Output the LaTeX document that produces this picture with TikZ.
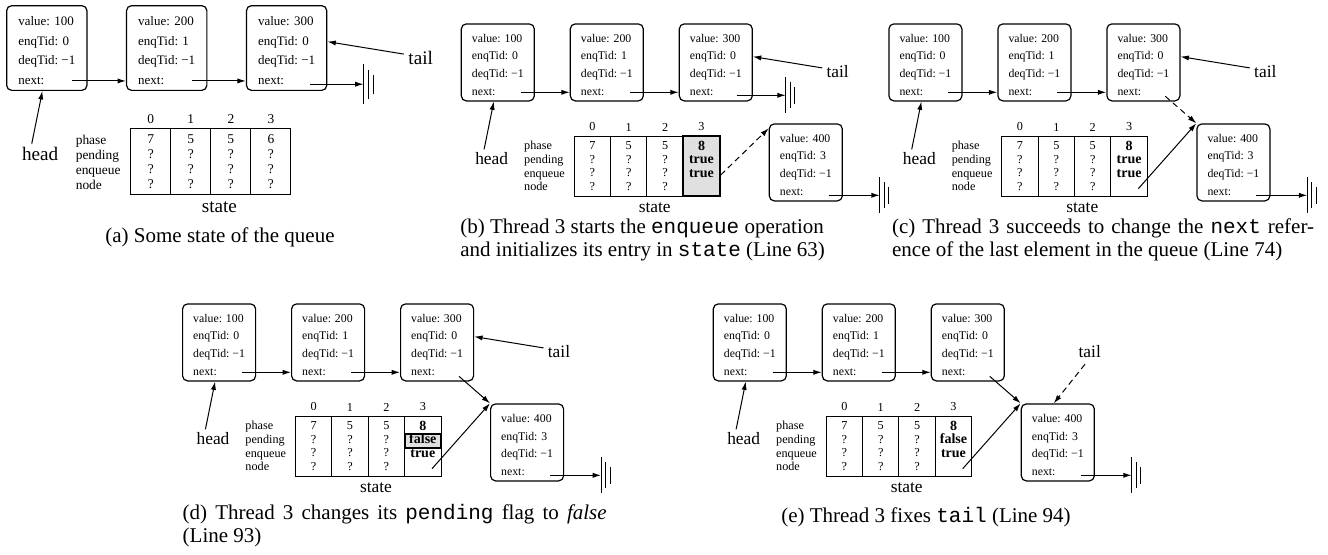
\documentclass[tikz,border=0pt]{standalone}
\usepackage{fontspec}
\setmainfont{Liberation Serif}
\setmonofont{Liberation Mono}
\usetikzlibrary{positioning,arrows.meta,backgrounds}

\definecolor{cellgray}{gray}{0.88}

\tikzset{
  qbox/.style={draw, line width=0.6pt, rounded corners=2.5pt, anchor=north west,
    minimum width=36.5pt, minimum height=38.5pt, inner sep=0pt,
    align=left, font=\fontsize{5.9}{8.88}\selectfont},
  col/.style={draw, line width=0.5pt, minimum width=18.2pt, minimum height=30pt,
    inner sep=0pt, align=center, font=\fontsize{6.1}{6.83}\selectfont},
  boldcell/.style={font=\fontsize{7}{6.83}\selectfont\bfseries},
  hdr/.style={inner sep=1pt, font=\fontsize{6.1}{7}\selectfont},
  rowlbl/.style={inner sep=0pt, align=left, font=\fontsize{6.1}{6.83}\selectfont},
  big/.style={inner sep=0pt, font=\fontsize{8.7}{10}\selectfont},
  captext/.style={inner sep=0pt, align=left, font=\fontsize{10.5}{11.5}\selectfont},
  link/.style={-{Latex[length=4.2pt,width=2.6pt]}, line width=0.5pt},
  tentative/.style={dash pattern=on 3pt off 2pt},
}

% text of one queue element
\newcommand{\qtext}[2]{\rule{0pt}{6.55pt}value: #1\\enqTid: #2\\deqTid:~−1\\next:}

% null reference
\newcommand{\gnd}[1]{\draw[line width=0.5pt] (#1) ++(0,-18) -- ++(0,36)
  (#1) ++(4.5,-13) -- ++(0,26) (#1) ++(9,-8.5) -- ++(0,17);}

% elements 100,200,300, head and the state array
\newcommand{\queuebase}[2]{%
  \node[qbox] (b1) at (0,0) {\qtext{100}{0}};
  \node[qbox] (b2) at (109,0) {\qtext{200}{1}};
  \node[qbox] (b3) at (218,0) {\qtext{300}{0}};
  \coordinate (n1) at (60,69);
  \coordinate (n2) at (169,69);
  \draw[link] (n1) -- (n1 -| b2.west);
  \draw[link] (n2) -- (n2 -| b3.west);
  \node[big] (hd) at (31,135) {head};
  \draw[link] ([xshift=-3.8pt,yshift=1.2pt]hd.north) -- ([xshift=-2pt]b1.south);
  \node[big] (tl) at (377,48) {tail};
  \node[col] (c0) at (131.6,142.7) {7\\?\\?\\?};
  \node[col] (c1) at (168,142.7) {5\\?\\?\\?};
  \node[col] (c2) at (204.4,142.7) {5\\?\\?\\?};
  \node[col,#1] (c3) at (240.8,142.7) {#2};
  \node[hdr, above=1pt of c0] {0};
  \node[hdr, above=1pt of c1] {1};
  \node[hdr, above=1pt of c2] {2};
  \node[hdr, above=1pt of c3] {3};
  \node[rowlbl, left=4.2pt of c0] (rl) {phase\\pending\\enqueue\\node};
  \node[big] (st) at (194,184) {state};
}

\begin{document}
\begin{tikzpicture}[x=0.5pt, y=-0.5pt]
\useasboundingbox (0,0) rectangle (1328,554);

% (a)
\begin{scope}[shift={(6,5)}, scale=1.1, transform shape]
\queuebase{}{6\\?\\?\\?}
\draw[link] ([xshift=-2pt,yshift=1.7pt]tl.west) -- ([yshift=2.9pt]b3.east);
\coordinate (n3) at (276,72);
\coordinate (g1) at (325,72);
\draw[link] (n3) -- (g1);
\gnd{g1}
\end{scope}

% (b)
\begin{scope}[shift={(460.7,23.3)}]
\queuebase{boldcell, fill=cellgray, line width=1pt}{8\\true\\true\\\phantom{?}}
\draw[link] ([xshift=-2pt,yshift=1.7pt]tl.west) -- ([yshift=2.9pt]b3.east);
\coordinate (n3) at (276,72);
\coordinate (g1) at (325,72);
\draw[link] (n3) -- (g1);
\gnd{g1}
\node[qbox] (b4) at (308,100) {\qtext{400}{3}};
\coordinate (n4) at (368,172);
\coordinate (g2) at (419,172);
\draw[link] (n4) -- (g2);
\gnd{g2}
\draw[link, tentative] ([yshift=-4.5pt]c3.east) -- ([yshift=-2.5pt]b4.north west);
\end{scope}

% (c)
\begin{scope}[shift={(888.3,23.3)}]
\queuebase{boldcell}{8\\true\\true\\\phantom{?}}
\draw[link] ([xshift=-2pt,yshift=1.7pt]tl.west) -- ([yshift=2.9pt]b3.east);
\node[qbox] (b4) at (308,100) {\qtext{400}{3}};
\coordinate (n3) at (277,73);
\draw[link, tentative] (n3) -- (b4.north west);
\draw[link] ([xshift=4.6pt,yshift=3.9pt]c3.south) -- (b4.north west);
\coordinate (n4) at (368,172);
\coordinate (g2) at (419,172);
\draw[link] (n4) -- (g2);
\gnd{g2}
\end{scope}

% (d)
\begin{scope}[shift={(182,303.3)}]
\queuebase{boldcell}{8\\false\\true\\\phantom{?}}
\begin{scope}[on background layer]
\node[draw, fill=cellgray, line width=1pt, minimum width=18.2pt, minimum height=6.8pt, inner sep=0pt] (fl) at (240.8,137.5) {};
\end{scope}
\draw[link] ([xshift=-2pt,yshift=1.7pt]tl.west) -- ([yshift=2.9pt]b3.east);
\node[qbox] (b4) at (308,100) {\qtext{400}{3}};
\coordinate (n3) at (277,73);
\draw[link] (n3) -- (b4.north west);
\draw[link] ([xshift=4.6pt,yshift=3.9pt]c3.south) -- (b4.north west);
\coordinate (n4) at (368,172);
\coordinate (g2) at (419,172);
\draw[link] (n4) -- (g2);
\gnd{g2}
\end{scope}

% (e)
\begin{scope}[shift={(712.7,303.3)}]
\queuebase{boldcell}{8\\false\\true\\\phantom{?}}
\node[qbox] (b4) at (308,100) {\qtext{400}{3}};
\draw[link, tentative] ([xshift=-2.35pt,yshift=-3.2pt]tl.south) -- ([xshift=-2pt]b4.north);
\coordinate (n3) at (277,73);
\draw[link] (n3) -- (b4.north west);
\draw[link] ([xshift=4.6pt,yshift=3.9pt]c3.south) -- (b4.north west);
\coordinate (n4) at (368,172);
\coordinate (g2) at (419,172);
\draw[link] (n4) -- (g2);
\gnd{g2}
\end{scope}

% captions
\node[captext, anchor=base] (capa) at (220,242) {(a) Some state of the queue};
\node[captext, anchor=north west] (capb) at (460,219) {(b) Thread 3 starts the \texttt{enqueue} operation\\and initializes its entry in \texttt{state} (Line 63)};
\node[captext, anchor=north west] (capc) at (891.7,218) {\makebox[211pt][s]{(c) Thread 3 succeeds to change the \texttt{next} refer-}\\ence of the last element in the queue (Line 74)};
\node[captext, anchor=north west] (capd) at (182.3,503.5) {\makebox[212pt][s]{(d) Thread 3 changes its \texttt{pending} flag to \textit{false}}\\(Line 93)};
\node[captext, anchor=base] (cape) at (926,522) {(e) Thread 3 fixes \texttt{tail} (Line 94)};
\end{tikzpicture}
\end{document}
